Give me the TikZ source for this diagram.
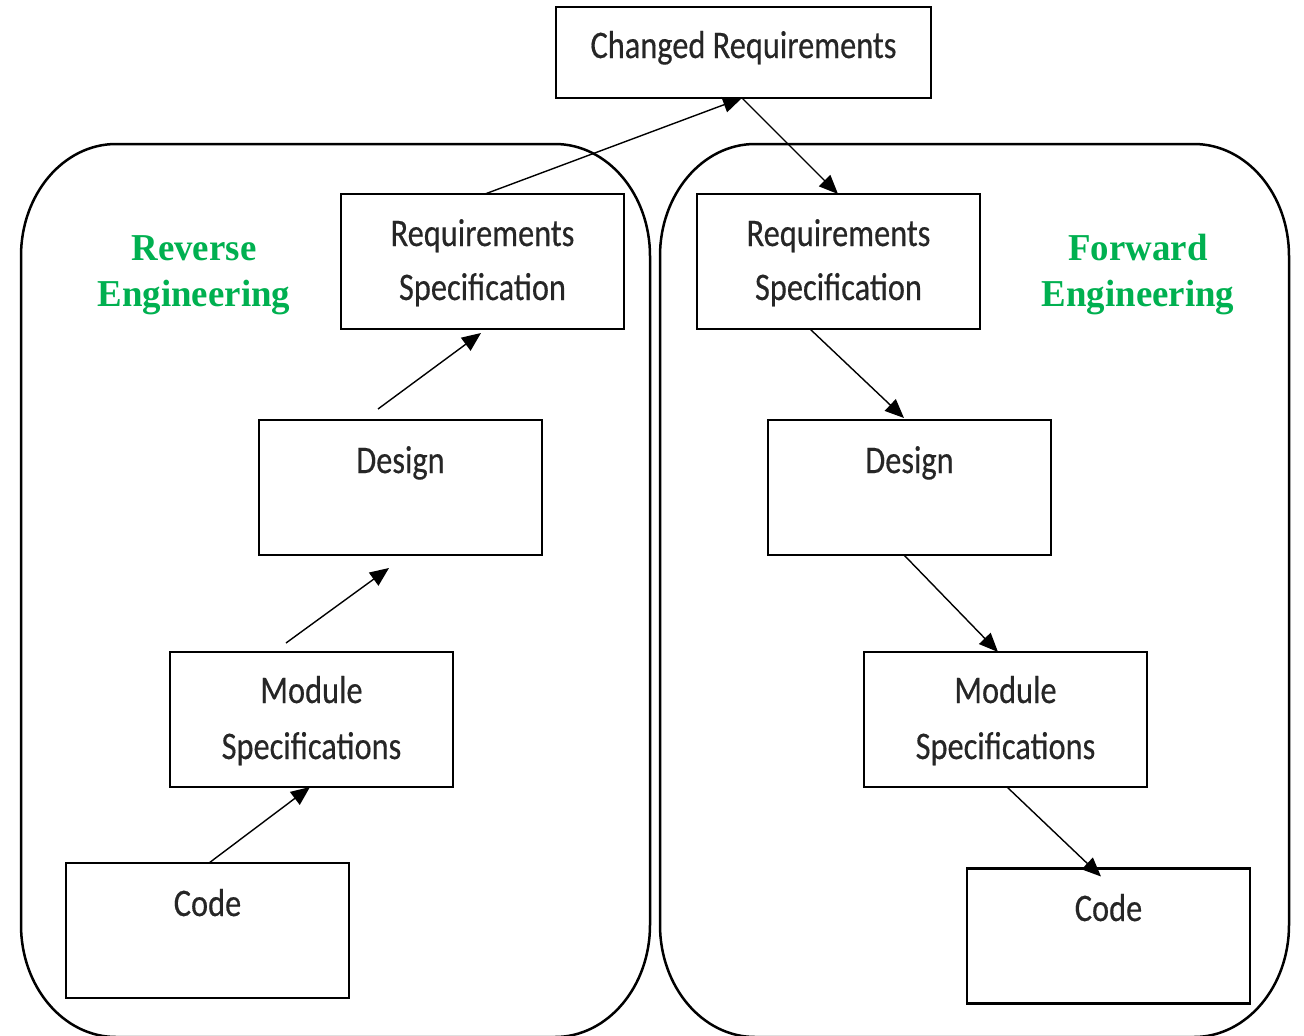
\documentclass[tikz,border=0pt]{standalone}
\usepackage{fontspec}
\usetikzlibrary{arrows.meta}
\newfontfamily\boxfont[FakeStretch=0.83,FakeBold=0.4]{Carlito}
\newfontfamily\engfont[FakeStretch=0.97]{Liberation Serif}
\definecolor{enggreen}{RGB}{0,176,80}
\tikzset{
  x=1pt, y=1pt,
  box/.style={draw, line width=2.8pt, inner sep=0pt, outer sep=0pt,
              minimum width=283pt, minimum height=135pt},
  lbl/.style={anchor=base, inner sep=0pt, text=black!85,
              font=\boxfont\fontsize{39}{47}\selectfont},
  eng/.style={anchor=base, inner sep=0pt, text=enggreen,
              font=\engfont\bfseries\fontsize{38}{46}\selectfont},
  cont/.style={draw, line width=2.5pt},
  arr/.style={line width=1.4pt, black, -{Triangle[length=19pt,width=16pt]}}
}
\begin{document}
\begin{tikzpicture}
\useasboundingbox (0,0) rectangle (1304,-1036);

% containers
\draw[cont] (21,-256) -- (21,-925)
  arc[start angle=180, end angle=270, x radius=95, y radius=112]
  -- (555,-1037)
  arc[start angle=270, end angle=360, x radius=95, y radius=112]
  -- (650,-256)
  arc[start angle=0, end angle=90, x radius=95, y radius=112]
  -- (116,-144)
  arc[start angle=90, end angle=180, x radius=95, y radius=112] -- cycle;
\draw[cont] (660,-256) -- (660,-925)
  arc[start angle=180, end angle=270, x radius=95, y radius=112]
  -- (1194,-1037)
  arc[start angle=270, end angle=360, x radius=95, y radius=112]
  -- (1289,-256)
  arc[start angle=0, end angle=90, x radius=95, y radius=112]
  -- (755,-144)
  arc[start angle=90, end angle=180, x radius=95, y radius=112] -- cycle;

% boxes
\node[box, minimum width=375pt, minimum height=91pt] (chg) at (743.5,-52.5) {};
\node[box] (lreq) at (482.5,-261.5) {};
\node[box] (ldes) at (400.5,-487.5) {};
\node[box] (lmod) at (311.5,-719.5) {};
\node[box] (lcode) at (207.5,-930.5) {};
\node[box] (rreq) at (838.5,-261.5) {};
\node[box] (rdes) at (909.5,-487.5) {};
\node[box] (rmod) at (1005.5,-719.5) {};
\node[box] (rcode) at (1108.5,-936) {};

% texts
\node[lbl] (chgT) at (743.5,-58) {Changed Requirements};
\node[lbl] (lreqT1) at (482.5,-246) {Requirements};
\node[lbl] (lreqT2) at (482.5,-300) {Specification};
\node[lbl] (ldesT) at (400.5,-473) {Design};
\node[lbl] (lmodT1) at (311.5,-703) {Module};
\node[lbl] (lmodT2) at (311.5,-759) {Specifications};
\node[lbl] (lcodeT) at (207.5,-916) {Code};
\node[lbl] (rreqT1) at (838.5,-246) {Requirements};
\node[lbl] (rreqT2) at (838.5,-300) {Specification};
\node[lbl] (rdesT) at (909.5,-473) {Design};
\node[lbl] (rmodT1) at (1005.5,-703) {Module};
\node[lbl] (rmodT2) at (1005.5,-759) {Specifications};
\node[lbl] (rcodeT) at (1108.5,-921) {Code};

\node[eng] (rev1) at (194,-260) {Reverse};
\node[eng] (rev2) at (194,-306) {Engineering};
\node[eng] (fwd1) at (1138,-260) {Forward};
\node[eng] (fwd2) at (1138,-306) {Engineering};

% arrows: reverse engineering (upwards)
\draw[arr] ([xshift=143pt]lcode.north west) -- ([xshift=140pt]lmod.south west);
\draw[arr] ([xshift=116pt,yshift=9pt]lmod.north west) -- ([xshift=130pt,yshift=-13pt]ldes.south west);
\draw[arr] ([xshift=119pt,yshift=11pt]ldes.north west) -- ([xshift=140pt,yshift=-4pt]lreq.south west);
\draw[arr] ([xshift=144pt]lreq.north west) -- ([xshift=186pt]chg.south west);
% arrows: forward engineering (downwards)
\draw[arr] ([xshift=186pt]chg.south west) -- ([xshift=141pt]rreq.north west);
\draw[arr] ([xshift=113pt]rreq.south west) -- ([xshift=136pt,yshift=2pt]rdes.north west);
\draw[arr] ([xshift=136pt]rdes.south west) -- ([xshift=134pt]rmod.north west);
\draw[arr] ([xshift=143pt]rmod.south west) -- ([xshift=134pt,yshift=-8pt]rcode.north west);
\end{tikzpicture}
\end{document}
